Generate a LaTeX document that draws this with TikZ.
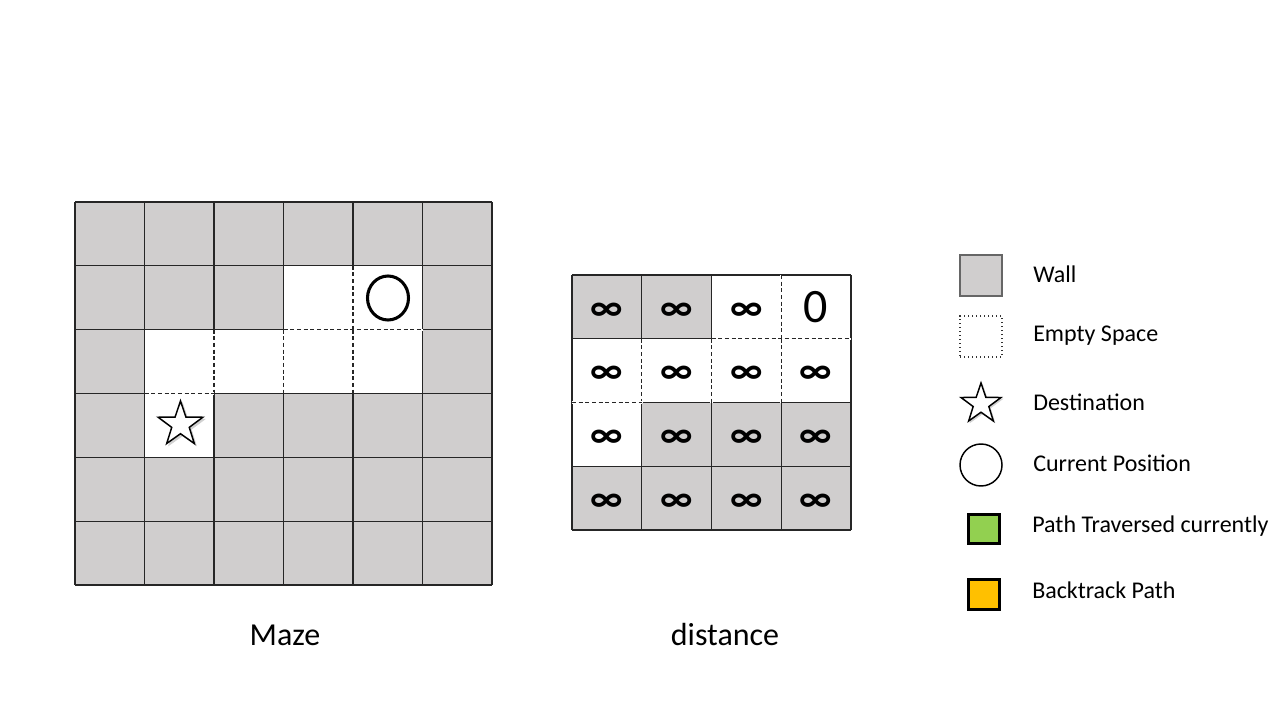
\documentclass[tikz,border=0pt]{standalone}
\usepackage{fontspec}
\setmainfont{Carlito}
\usetikzlibrary{shapes.geometric}
\definecolor{wallgray}{HTML}{D0CECE}
\definecolor{pathgreen}{HTML}{92D050}
\definecolor{backorange}{HTML}{FFC000}
\newcommand\pxu{*0.75pt}
\newcommand\infsym{{\fontsize{29}{32}\selectfont\raisebox{-0.12em}[\height][\depth]{\textbf{∞}}}}
\tikzset{
  mcell/.style={rectangle, inner sep=0pt, outer sep=0pt, minimum width=69.5\pxu, minimum height=63.83\pxu, fill=wallgray},
  dcell/.style={rectangle, inner sep=0pt, outer sep=0pt, minimum width=69.75\pxu, minimum height=63.75\pxu, font=\fontsize{36}{40}\selectfont},
  gridline/.style={line width=0.8pt, draw=black!85},
  dashline/.style={line width=0.8pt, draw=black!85, dash pattern=on 3pt off 2pt},
  erase/.style={line width=1.6pt, draw=white},
  starsym/.style={star, star points=5, star point ratio=2.55, draw=black, fill=white, line width=1.1pt, inner sep=0pt},
  legtext/.style={anchor=base west, inner sep=0pt, font=\fontsize{18}{22}\selectfont},
  caption/.style={anchor=base, font=\fontsize{24}{28}\selectfont},
}
\begin{document}
\begin{tikzpicture}[x=0.75pt,y=-0.75pt]
\useasboundingbox (0,0) rectangle (1280,720);
% ---------- Maze ----------
\foreach \r in {0,...,5}{\foreach \c in {0,...,5}{
  \node[mcell] (m-\r-\c) at ({75+69.5*(\c+0.5)},{202+63.83*(\r+0.5)}) {};
}}
\foreach \r/\c in {1/3,1/4,2/1,2/2,2/3,2/4,3/1}{
  \node[mcell, fill=white] (e-\r-\c) at (m-\r-\c) {};
}
\foreach \c in {0,...,5}{
  \draw[gridline] (m-0-\c.north west) -- (m-5-\c.south west);
}
\draw[gridline] (m-0-5.north east) -- (m-5-5.south east);
\foreach \r in {0,...,5}{
  \draw[gridline] (m-\r-0.north west) -- (m-\r-5.north east);
}
\draw[gridline] (m-5-0.south west) -- (m-5-5.south east);
% dashed edges between empty cells
\foreach \a/\b in {m-1-4.north west/m-1-4.south west, m-1-3.south west/m-1-4.south east,
  m-2-2.north west/m-2-2.south west, m-2-3.north west/m-2-3.south west,
  m-2-4.north west/m-2-4.south west, m-3-1.north west/m-3-1.north east}{
  \draw[erase] (\a) -- (\b);
  \draw[dashline] (\a) -- (\b);
}
\node[ellipse, draw=black, line width=2.3pt, fill=white, minimum width=41\pxu, minimum height=44\pxu, inner sep=0pt] (cur) at (388,298) {};
\node[starsym, minimum size=47\pxu, draw=black!18, fill=black!18, line width=0.5pt] (dstshadow) at (182.5,426.5) {};
\node[starsym, minimum size=47\pxu] (dst) at (180.5,424.5) {};
\node[caption] (mazelbl) at (285,645) {Maze};
% ---------- distance ----------
\foreach \r in {0,...,3}{\foreach \c in {0,...,3}{
  \pgfmathtruncatemacro{\w}{{1,1,0,0,0,0,0,0,0,1,1,1,1,1,1,1}[\r*4+\c]}
  \pgfmathtruncatemacro{\z}{(\r==0)&&(\c==3)}
  \ifnum\w=1 \def\cf{wallgray}\else\def\cf{white}\fi
  \ifnum\z=1 \def\ct{0}\else\def\ct{\infsym}\fi
  \node[dcell, fill=\cf] (d-\r-\c) at ({572+69.75*(\c+0.5)},{275+63.75*(\r+0.5)}) {\ct};
}}
\foreach \c in {0,...,3}{
  \draw[gridline] (d-0-\c.north west) -- (d-3-\c.south west);
}
\draw[gridline] (d-0-3.north east) -- (d-3-3.south east);
\foreach \r in {0,...,3}{
  \draw[gridline] (d-\r-0.north west) -- (d-\r-3.north east);
}
\draw[gridline] (d-3-0.south west) -- (d-3-3.south east);
\foreach \a/\b in {d-0-3.north west/d-0-3.south west, d-0-2.south west/d-0-3.south east,
  d-1-1.north west/d-1-1.south west, d-1-2.north west/d-1-2.south west,
  d-1-3.north west/d-1-3.south west, d-2-0.north west/d-2-0.north east}{
  \draw[erase] (\a) -- (\b);
  \draw[dashline] (\a) -- (\b);
}
\node[caption] (distlbl) at (725,645) {distance};
% ---------- Legend ----------
\node[rectangle, draw=black!60, line width=1.1pt, fill=wallgray, minimum width=42\pxu, minimum height=41\pxu, inner sep=0pt] (lwall) at (981,275.5) {};
\node[rectangle, draw=black!80, line width=1pt, dotted, minimum width=42\pxu, minimum height=41\pxu, inner sep=0pt] (lempty) at (981,336.5) {};
\node[starsym, minimum size=42\pxu, draw=black!18, fill=black!18, line width=0.5pt] (lstarshadow) at (982.5,405.5) {};
\node[starsym, minimum size=42\pxu] (lstar) at (981,404) {};
\node[circle, draw=black, line width=1.1pt, minimum size=42\pxu, inner sep=0pt] (lcur) at (981,465) {};
\node[rectangle, draw=black, line width=2.2pt, fill=pathgreen, minimum width=31\pxu, minimum height=29\pxu, inner sep=0pt] (lpath) at (984,529) {};
\node[rectangle, draw=black, line width=2.2pt, fill=backorange, minimum width=31\pxu, minimum height=30\pxu, inner sep=0pt] (lback) at (984,594.5) {};
\node[legtext] (twall) at (1033,282.7) {Wall};
\node[legtext] (tempty) at (1033,341.7) {Empty Space};
\node[legtext] (tdst) at (1033,410) {Destination};
\node[legtext] (tcur) at (1033,471.7) {Current Position};
\node[legtext] (tpath) at (1032,532.7) {Path Traversed currently};
\node[legtext] (tback) at (1032,598.3) {Backtrack Path};
\end{tikzpicture}
\end{document}
